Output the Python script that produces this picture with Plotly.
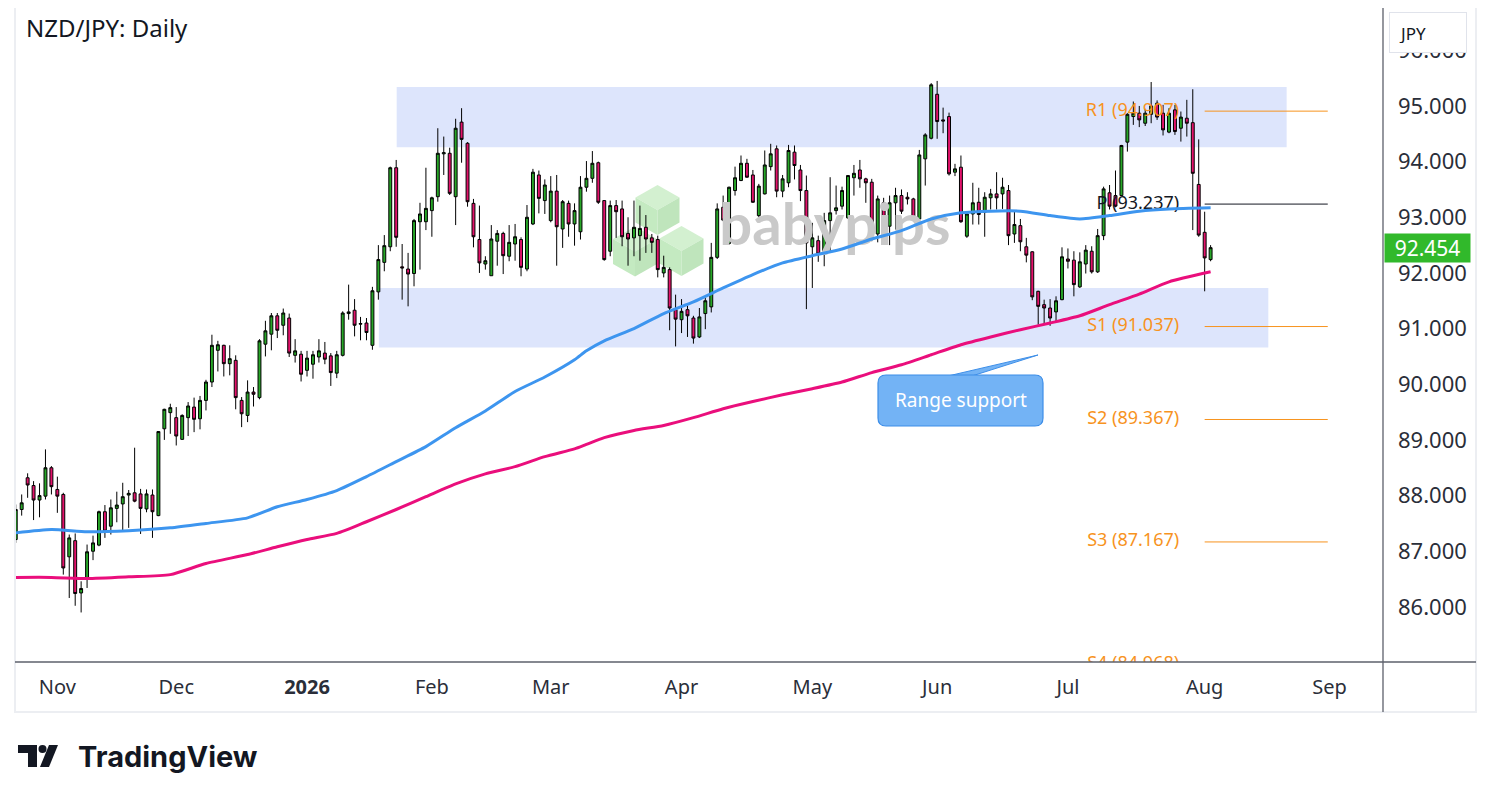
import pandas as pd
import plotly.graph_objects as go

# NZD/JPY daily candles (Oct 23 2025 .. Aug 4 2026)
holidays = ["2025-12-25", "2026-01-01"]
dates = pd.bdate_range("2025-10-23", "2026-08-04").drop(pd.to_datetime(holidays))

opens = [
    87.21, 87.75, 88.32, 88.18, 87.92, 87.99, 88.50, 88.11, 88.02, 86.90,
    87.19, 86.25, 86.51, 87.00, 87.11, 87.71, 87.45, 87.77, 87.85, 88.01,
    88.05, 88.03, 87.76, 88.01, 87.64, 89.20, 89.49, 89.40, 89.01, 89.40,
    89.59, 89.38, 89.71, 90.04, 90.61, 90.70, 90.37, 90.43, 89.71, 89.44,
    89.86, 89.76, 90.72, 90.90, 91.23, 91.06, 91.19, 90.52, 90.54, 90.25,
    90.36, 90.49, 90.56, 90.51, 90.20, 90.52, 91.27, 91.33, 91.08, 91.10,
    90.70, 91.66, 92.19, 92.47, 93.89, 92.11, 92.07, 91.99, 92.92, 92.92,
    93.12, 93.37, 94.14, 94.15, 93.37, 94.71, 94.33, 93.25, 92.60, 92.16,
    91.95, 92.57, 92.71, 92.30, 92.52, 92.60, 92.07, 92.88, 93.76, 93.30,
    92.94, 93.47, 92.79, 93.25, 92.88, 92.74, 93.54, 93.70, 93.98, 93.30,
    92.39, 93.21, 93.15, 92.71, 92.63, 92.67, 92.82, 92.63, 92.60, 92.00,
    92.06, 91.34, 91.16, 91.34, 91.19, 90.85, 91.27, 91.39, 92.28, 93.18,
    92.53, 93.48, 93.66, 93.97, 93.76, 93.03, 93.42, 93.91, 94.23, 93.47,
    93.62, 94.17, 93.85, 93.48, 92.47, 92.58, 92.34, 92.94, 93.12, 93.20,
    92.99, 93.71, 93.85, 93.69, 93.63, 92.70, 93.26, 92.84, 93.26, 93.39,
    93.36, 93.33, 92.97, 94.05, 94.42, 95.21, 94.75, 94.81, 93.81, 93.90,
    92.66, 93.06, 93.27, 93.09, 93.35, 93.42, 93.42, 93.48, 92.70, 92.85,
    92.47, 92.38, 91.67, 91.43, 91.37, 91.30, 91.52, 92.25, 92.23, 91.75,
    92.16, 92.39, 92.02, 92.67, 93.44, 93.39, 93.39, 94.35, 94.81, 94.87,
    94.69, 94.85, 95.05, 94.87, 94.53, 94.93, 94.60, 94.78, 94.70, 93.59,
    92.73, 92.24]
highs = [
    87.84, 88.02, 88.40, 88.26, 88.22, 88.83, 88.53, 88.34, 88.05, 87.30,
    87.32, 86.46, 87.12, 87.28, 87.73, 87.83, 87.93, 88.07, 88.23, 88.10,
    88.86, 88.12, 88.11, 88.11, 89.16, 89.56, 89.65, 89.59, 89.46, 89.68,
    89.76, 89.79, 90.08, 90.89, 90.78, 90.71, 90.70, 90.52, 89.77, 90.07,
    89.95, 90.81, 91.14, 91.28, 91.28, 91.36, 91.27, 90.81, 90.60, 90.60,
    90.60, 90.81, 90.76, 90.56, 90.60, 91.31, 91.79, 91.53, 91.21, 91.19,
    91.75, 92.50, 92.68, 93.91, 94.03, 92.52, 92.36, 92.97, 93.26, 93.89,
    93.37, 94.60, 94.45, 94.25, 94.77, 94.96, 94.35, 93.33, 93.21, 92.30,
    92.86, 92.77, 92.74, 92.86, 92.88, 92.64, 93.22, 93.87, 93.84, 93.68,
    93.74, 93.76, 93.31, 93.30, 93.25, 93.74, 94.01, 94.19, 94.00, 93.31,
    93.30, 93.31, 93.30, 93.00, 93.30, 93.21, 93.04, 92.70, 92.67, 92.31,
    92.10, 91.61, 91.53, 91.41, 91.23, 91.37, 91.55, 92.54, 93.25, 93.39,
    93.55, 93.91, 94.11, 94.05, 93.85, 93.60, 94.20, 94.32, 94.29, 93.76,
    94.30, 94.29, 93.94, 93.75, 92.90, 92.67, 93.08, 93.72, 93.57, 93.55,
    93.75, 93.94, 94.03, 93.71, 93.69, 93.39, 93.35, 93.39, 93.53, 93.50,
    93.45, 93.35, 94.21, 94.51, 95.41, 95.45, 94.97, 94.88, 93.96, 94.11,
    93.08, 93.62, 93.53, 93.45, 93.51, 93.81, 93.71, 93.58, 93.11, 92.97,
    92.63, 92.39, 91.68, 91.52, 91.53, 91.58, 92.46, 92.44, 92.39, 92.37,
    92.50, 92.48, 92.79, 93.55, 93.58, 93.84, 94.30, 94.87, 95.08, 95.00,
    94.95, 95.43, 95.10, 95.02, 94.96, 95.02, 94.90, 95.11, 95.30, 94.40,
    93.10, 92.50]
lows = [
    87.15, 87.64, 87.96, 87.56, 87.61, 87.93, 88.02, 87.69, 86.58, 86.16,
    86.02, 85.90, 86.34, 86.84, 87.09, 87.24, 87.30, 87.52, 87.37, 87.42,
    87.88, 87.31, 87.70, 87.24, 87.63, 89.00, 89.11, 88.90, 89.00, 89.07,
    89.14, 89.19, 89.53, 89.95, 90.23, 90.14, 90.16, 89.55, 89.23, 89.32,
    89.60, 89.73, 90.50, 90.61, 90.83, 90.88, 90.49, 90.39, 90.05, 90.14,
    90.10, 90.39, 90.36, 89.97, 90.11, 90.50, 91.16, 90.86, 90.79, 90.79,
    90.62, 91.52, 92.03, 92.39, 92.47, 91.52, 91.40, 91.76, 92.06, 92.77,
    92.65, 93.28, 93.76, 93.40, 92.86, 93.98, 93.19, 92.46, 92.00, 92.06,
    91.95, 92.13, 91.98, 92.21, 92.22, 91.94, 92.03, 92.86, 93.07, 93.06,
    92.91, 92.13, 92.45, 92.65, 92.49, 92.60, 93.46, 93.62, 93.24, 92.22,
    92.30, 92.63, 92.48, 92.13, 92.30, 92.22, 92.36, 92.36, 91.92, 91.92,
    90.97, 90.68, 90.92, 90.85, 90.73, 90.83, 90.99, 91.29, 92.25, 92.93,
    92.51, 93.39, 93.65, 93.71, 93.26, 93.00, 93.41, 93.84, 93.36, 93.36,
    93.54, 93.68, 93.29, 91.35, 91.73, 92.20, 92.12, 92.39, 93.05, 93.14,
    92.97, 93.39, 93.53, 93.26, 92.57, 92.55, 92.59, 92.50, 92.78, 93.06,
    93.23, 92.96, 92.96, 93.57, 94.40, 94.41, 94.51, 93.75, 93.74, 92.90,
    92.63, 92.87, 92.87, 92.65, 93.14, 93.14, 93.15, 92.50, 92.54, 92.39,
    92.19, 91.51, 91.07, 91.10, 91.05, 91.11, 91.51, 92.08, 91.58, 91.73,
    91.99, 91.99, 92.00, 92.59, 93.14, 93.18, 93.38, 94.18, 94.66, 94.62,
    94.64, 94.69, 94.75, 94.47, 94.51, 94.48, 94.36, 94.45, 92.77, 92.65,
    91.67, 92.21]
closes = [
    87.75, 87.87, 88.19, 87.92, 88.00, 88.50, 88.16, 87.99, 86.70, 87.24,
    86.24, 86.33, 86.99, 87.15, 87.71, 87.36, 87.78, 87.83, 87.98, 88.04,
    87.90, 87.77, 88.03, 87.71, 89.15, 89.55, 89.58, 89.07, 89.44, 89.61,
    89.37, 89.71, 90.04, 90.70, 90.71, 90.37, 90.46, 89.76, 89.47, 89.86,
    89.82, 90.78, 90.96, 91.23, 90.97, 91.28, 90.56, 90.60, 90.18, 90.47,
    90.53, 90.60, 90.45, 90.21, 90.53, 91.28, 91.30, 91.06, 91.09, 90.93,
    91.68, 92.24, 92.49, 93.89, 92.64, 92.09, 91.98, 92.94, 93.06, 93.16,
    93.35, 94.15, 94.16, 93.43, 94.60, 94.40, 93.28, 92.65, 92.18, 92.22,
    92.61, 92.71, 92.31, 92.55, 92.65, 92.10, 93.00, 93.81, 93.34, 93.58,
    93.47, 92.83, 93.28, 92.88, 93.12, 93.54, 93.70, 93.97, 93.27, 92.24,
    93.21, 93.10, 92.65, 92.61, 92.82, 92.80, 92.61, 92.55, 92.06, 92.10,
    91.37, 91.17, 91.31, 91.23, 90.83, 91.21, 91.50, 92.28, 93.15, 92.95,
    93.54, 93.71, 93.97, 93.72, 93.27, 93.56, 93.94, 94.14, 93.47, 93.69,
    94.20, 93.93, 93.48, 92.54, 92.63, 92.34, 92.94, 93.08, 93.17, 93.48,
    93.75, 93.79, 93.69, 93.62, 92.70, 93.33, 92.84, 93.26, 93.39, 93.11,
    93.33, 92.97, 94.12, 94.48, 95.38, 94.72, 94.73, 93.78, 93.87, 92.92,
    93.06, 93.26, 93.05, 93.36, 93.42, 93.35, 93.54, 92.67, 92.87, 92.56,
    92.32, 91.57, 91.40, 91.37, 91.19, 91.50, 92.29, 92.21, 91.79, 92.20,
    92.41, 92.02, 92.67, 93.51, 93.20, 93.20, 94.29, 94.85, 94.87, 94.75,
    94.87, 95.00, 94.80, 94.57, 94.87, 94.54, 94.80, 94.69, 93.79, 92.68,
    92.27, 92.454]

# moving averages, sampled at these candle numbers (1 = first candle)
ma_days = [1, 7, 13, 20, 27, 33, 40, 45, 50, 55, 60, 65, 70, 75, 80, 85, 90, 95, 97, 100,
           105, 110, 115, 120, 125, 130, 135, 140, 145, 150, 155, 160, 165, 170, 175, 180,
           185, 190, 195, 202]
ma_fast = [87.33, 87.39, 87.35, 87.37, 87.42, 87.50, 87.60, 87.80, 87.93, 88.09,
           88.34, 88.61, 88.88, 89.22, 89.52, 89.87, 90.13, 90.44, 90.60, 90.78,
           91.00, 91.27, 91.48, 91.73, 91.97, 92.18, 92.31, 92.43, 92.61, 92.76,
           92.97, 93.08, 93.11, 93.11, 93.03, 92.97, 93.03, 93.11, 93.15, 93.17]
ma_slow = [86.53, 86.53, 86.51, 86.54, 86.58, 86.78, 86.94, 87.08, 87.21, 87.32,
           87.53, 87.75, 87.98, 88.21, 88.39, 88.52, 88.70, 88.84, 88.92, 89.04,
           89.17, 89.26, 89.40, 89.56, 89.69, 89.81, 89.92, 90.04, 90.21, 90.35,
           90.53, 90.71, 90.85, 90.98, 91.10, 91.23, 91.43, 91.62, 91.84, 92.02]

# pivot levels
pivot_names = ["R1", "P", "S1", "S2", "S3", "S4"]
pivot_values = [94.907, 93.237, 91.037, 89.367, 87.167, 84.968]

# range boxes (price bounds)
range_top = [94.26, 95.34]
range_bottom = [90.66, 91.73]

month_ticks = ["2025-11-03", "2025-12-01", "2026-01-02", "2026-02-02", "2026-03-02",
               "2026-04-01", "2026-05-01", "2026-06-01", "2026-07-01", "2026-08-03",
               "2026-09-01"]
month_labels = ["Nov", "Dec", "<b>2026</b>", "Feb", "Mar", "Apr", "May", "Jun", "Jul",
                "Aug", "Sep"]
y_ticks = [86, 87, 88, 89, 90, 91, 92, 93, 94, 95, 96]

last_price = closes[-1]

# ---- layout helpers: page pixel -> paper (page has an 8px body margin) ----
OFF = 8
W, H = 1483, 793
ML, MR, MT, MB = 7, 108, 0, 139
PW, PH = W - ML - MR, H - MT - MB


def px(x):
    return (x - OFF - ML) / PW


def py(y):
    return (H - MB - (y - OFF)) / PH


def path(points):
    return "M " + " L ".join(f"{px(x):.5f},{py(y):.5f}" for x, y in points) + " Z"


def rounded(x0, y0, x1, y1, r):
    p = lambda x, y: f"{px(x):.5f},{py(y):.5f}"
    return (f"M {p(x0 + r, y0)} L {p(x1 - r, y0)} Q {p(x1, y0)} {p(x1, y0 + r)} "
            f"L {p(x1, y1 - r)} Q {p(x1, y1)} {p(x1 - r, y1)} L {p(x0 + r, y1)} "
            f"Q {p(x0, y1)} {p(x0, y1 - r)} L {p(x0, y0 + r)} Q {p(x0, y0)} {p(x0 + r, y0)} Z")


ORANGE = "#f7931e"
TXT = "#131722"

fig = go.Figure()

# watermark text (under the candles)
fig.add_trace(go.Scatter(
    x=["2026-05-06 19:00"], y=[92.77], mode="text", text=["babypips"],
    textfont=dict(family="Lato", size=58, color="#c9c9c9", weight="bold"),
    hoverinfo="skip", showlegend=False))

# pivot labels
fig.add_trace(go.Scatter(
    x=["2026-07-27 17:00"] * len(pivot_names), y=pivot_values, mode="text",
    text=[f"{n} ({v:.3f})" for n, v in zip(pivot_names, pivot_values)],
    textposition="middle left",
    textfont=dict(family="Noto Sans", size=18,
                  color=[TXT if n == "P" else ORANGE for n in pivot_names]),
    hoverinfo="skip", showlegend=False))

# pivot lines
for n, v in zip(pivot_names, pivot_values):
    fig.add_trace(go.Scatter(
        x=["2026-08-03", "2026-08-31 17:00"], y=[v, v], mode="lines",
        line=dict(color=TXT if n == "P" else ORANGE, width=1),
        hoverinfo="skip", showlegend=False))

fig.add_trace(go.Candlestick(
    x=dates, open=opens, high=highs, low=lows, close=closes,
    increasing=dict(line=dict(color="#000000", width=1), fillcolor="#27a627"),
    decreasing=dict(line=dict(color="#000000", width=1), fillcolor="#e3126b"),
    whiskerwidth=0, showlegend=False))

ma_x = [dates[d - 1] for d in ma_days]
fig.add_trace(go.Scatter(x=ma_x, y=ma_fast, mode="lines",
                         line=dict(color="#3d95ef", width=3, shape="spline", smoothing=0.6),
                         hoverinfo="skip", showlegend=False))
fig.add_trace(go.Scatter(x=ma_x, y=ma_slow, mode="lines",
                         line=dict(color="#ea0e7c", width=3, shape="spline", smoothing=0.6),
                         hoverinfo="skip", showlegend=False))

shapes = []
# range rectangles
shapes.append(dict(type="rect", xref="x", yref="y", x0="2026-01-23 02:00", x1="2026-08-20 19:00",
                   y0=range_top[0], y1=range_top[1], fillcolor="#dde5fc", line_width=0,
                   layer="below"))
shapes.append(dict(type="rect", xref="x", yref="y", x0="2026-01-20 02:00", x1="2026-08-17 17:00",
                   y0=range_bottom[0], y1=range_bottom[1], fillcolor="#dde5fc", line_width=0,
                   layer="below"))

# babypips cubes
for cx, cy in [(657.5, 210), (635, 251.5), (681.5, 251)]:
    w, h = 44, 50
    top = (cx, cy - h / 2)
    ur, lr = (cx + w / 2, cy - h / 4), (cx + w / 2, cy + h / 4)
    bot = (cx, cy + h / 2)
    ll, ul = (cx - w / 2, cy + h / 4), (cx - w / 2, cy - h / 4)
    c = (cx, cy)
    for pts, col in [([top, ur, c, ul], "#d3f0d0"), ([ul, c, bot, ll], "#c4eac1"),
                     ([c, ur, lr, bot], "#bfe5bc")]:
        shapes.append(dict(type="path", xref="paper", yref="paper", path=path(pts),
                           fillcolor=col, line_width=0, layer="below"))

# panel frame and axis lines
shapes.append(dict(type="rect", xref="paper", yref="paper", x0=px(15), x1=px(1476),
                   y0=py(712), y1=py(7), line=dict(color="#eceef2", width=2)))
shapes.append(dict(type="line", xref="paper", yref="paper", x0=px(1383), x1=px(1383),
                   y0=py(712), y1=py(7), line=dict(color="#5d606b", width=1.3)))
shapes.append(dict(type="line", xref="paper", yref="paper", x0=px(15), x1=px(1476),
                   y0=py(662), y1=py(662), line=dict(color="#5d606b", width=1.3)))

# "Range support" callout
shapes.append(dict(type="path", xref="paper", yref="paper",
                   path=path([(948, 376), (1038, 355), (972, 376)]),
                   fillcolor="#73b3f5", line=dict(color="#3d8ee8", width=1), layer="above"))
shapes.append(dict(type="path", xref="paper", yref="paper", path=rounded(878, 375, 1043, 426, 8),
                   fillcolor="#73b3f5", line=dict(color="#3d8ee8", width=1.2), layer="above"))

# TradingView logo mark
shapes.append(dict(type="path", xref="paper", yref="paper",
                   path=path([(18, 745), (37, 745), (37, 767), (28, 767), (28, 753), (18, 753)]),
                   fillcolor=TXT, line_width=0))
shapes.append(dict(type="circle", xref="paper", yref="paper", x0=px(38.5), x1=px(46.5),
                   y0=py(753), y1=py(745), fillcolor=TXT, line_width=0))
shapes.append(dict(type="path", xref="paper", yref="paper",
                   path=path([(49, 745), (58, 745), (49, 767), (40, 767)]),
                   fillcolor=TXT, line_width=0))

annotations = [
    dict(xref="paper", yref="paper", x=px(24), y=py(27), xanchor="left", yanchor="middle",
         text="NZD/JPY: Daily", showarrow=False, font=dict(size=24, color=TXT)),
    # currency box: sits over (and hides most of) the top price label
    dict(xref="paper", yref="paper", x=px(1389), y=py(12), xanchor="left", yanchor="top",
         text="JPY", showarrow=False, align="left", valign="top", width=58, height=21,
         borderpad=9, bgcolor="#ffffff", bordercolor="#e0e3eb", borderwidth=1,
         font=dict(size=17, color=TXT)),
    dict(xref="paper", yref="y", x=px(1384), y=last_price, xanchor="left", yanchor="middle",
         text=f"{last_price:.3f}", showarrow=False, bgcolor="#31b92b", borderpad=2,
         width=81, height=24, font=dict(size=21, color="#ffffff")),
    dict(xref="paper", yref="paper", x=px(960.5), y=py(400), xanchor="center", yanchor="middle",
         text="Range support", showarrow=False, font=dict(size=19, color="#ffffff")),
    dict(xref="paper", yref="paper", x=px(76), y=py(756), xanchor="left", yanchor="middle",
         text="<b>TradingView</b>", showarrow=False,
         font=dict(family="Inter", size=29, color=TXT)),
]

fig.update_layout(
    width=W, height=H,
    margin=dict(l=ML, r=MR, t=MT, b=MB, pad=0),
    paper_bgcolor="#ffffff", plot_bgcolor="#ffffff",
    font=dict(family="Noto Sans", color="#2a2e39"),
    showlegend=False,
    shapes=shapes,
    annotations=annotations,
    xaxis=dict(
        type="date",
        range=["2025-10-22 21:00", "2026-09-14"],
        rangebreaks=[dict(bounds=["sat", "mon"]), dict(values=holidays)],
        rangeslider=dict(visible=False),
        tickvals=month_ticks, ticktext=month_labels,
        tickfont=dict(size=20, color="#2a2e39"),
        ticks="", showgrid=False, zeroline=False, showline=False,
        ticklabelstandoff=11,
    ),
    yaxis=dict(
        side="right",
        range=[85.01, 96.76],
        tickvals=y_ticks, tickformat=".3f",
        tickfont=dict(size=22, color="#2a2e39"),
        ticks="", showgrid=False, zeroline=False, showline=False,
        ticklabelstandoff=14,
    ),
)

fig.write_html("out.html")
